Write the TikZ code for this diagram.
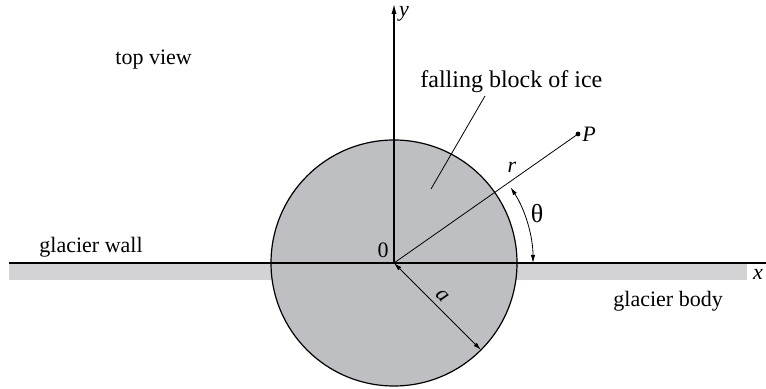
\documentclass[tikz,border=0pt]{standalone}
\usepackage{fontspec}
\setmainfont{Liberation Serif}
\usetikzlibrary{arrows.meta}
\definecolor{blockgray}{RGB}{190,191,195}
\definecolor{bodygray}{RGB}{211,211,213}

\begin{document}
\begin{tikzpicture}[x=0.5pt, y=-0.5pt, font=\fontsize{11}{13}\selectfont]
    % 样式
    \tikzstyle{axis line}=[line width=0.55pt]
    \tikzstyle{thin line}=[line width=0.4pt]
    \tikzstyle{dim arrow}=[thin line, {Latex[length=4pt,width=2.2pt]}-{Latex[length=4pt,width=2.2pt]}]
    \tikzstyle{label text}=[inner sep=0pt, anchor=base west]
    \useasboundingbox (0,0) rectangle (766,389);

    % 关键点
    \coordinate (O) at (394,263);
    \coordinate (wallL) at (9,263);
    \coordinate (xend) at (766,263);
    \coordinate (ytop) at (394,4);
    \coordinate (P) at (578,134);
    \coordinate (rim) at (481,350);
    \coordinate (arcstart) at (533,263);
    \coordinate (leadtop) at (485,96);
    \coordinate (leadbot) at (431,189);

    % 冰川本体 (浅灰条)
    \fill[bodygray] (9,264) rectangle (747,280);
    % 落下的冰块
    \draw[fill=blockgray, line width=0.6pt] (O) circle[radius=123];

    % 坐标轴
    \draw[axis line] (wallL) -- (xend);
    \draw[axis line, -{Latex[length=5pt,width=2.6pt]}] (O) -- (ytop);

    % 半径 r, 角 theta, 半径 a
    \draw[thin line] (O) -- (P);
    \fill (P) circle[radius=2.4];
    \draw[dim arrow] (arcstart) arc[start angle=0, end angle=-33, radius=139];
    \draw[dim arrow] (O) -- (rim);
    \draw[thin line] (leadtop) -- (leadbot);

    % 文字
    \node[label text] (topview) at (115,65) {top view};
    \node[label text, font=\fontsize{12}{14}\selectfont] (blocklbl) at (420,88) {falling block of ice};
    \node[label text] (wall) at (39,253) {glacier wall};
    \node[label text] (body) at (613,307) {glacier body};
    \node[anchor=base, inner sep=0pt] (zero) at (383,258) {0};
    \node[anchor=west, inner sep=0pt] (plbl) at (582,134) {\textit{P}};
    \node (xlbl) at (758,274) {\textit{x}};
    \node (ylbl) at (404,14) {\textit{y}};
    \node (rlbl) at (512,167) {\textit{r}};
    \node[font=\fontsize{13}{15}\selectfont] (thlbl) at (537,214) {θ};
    \node[rotate=-45] (albl) at (442,296) {\textit{a}};
\end{tikzpicture}
\end{document}
